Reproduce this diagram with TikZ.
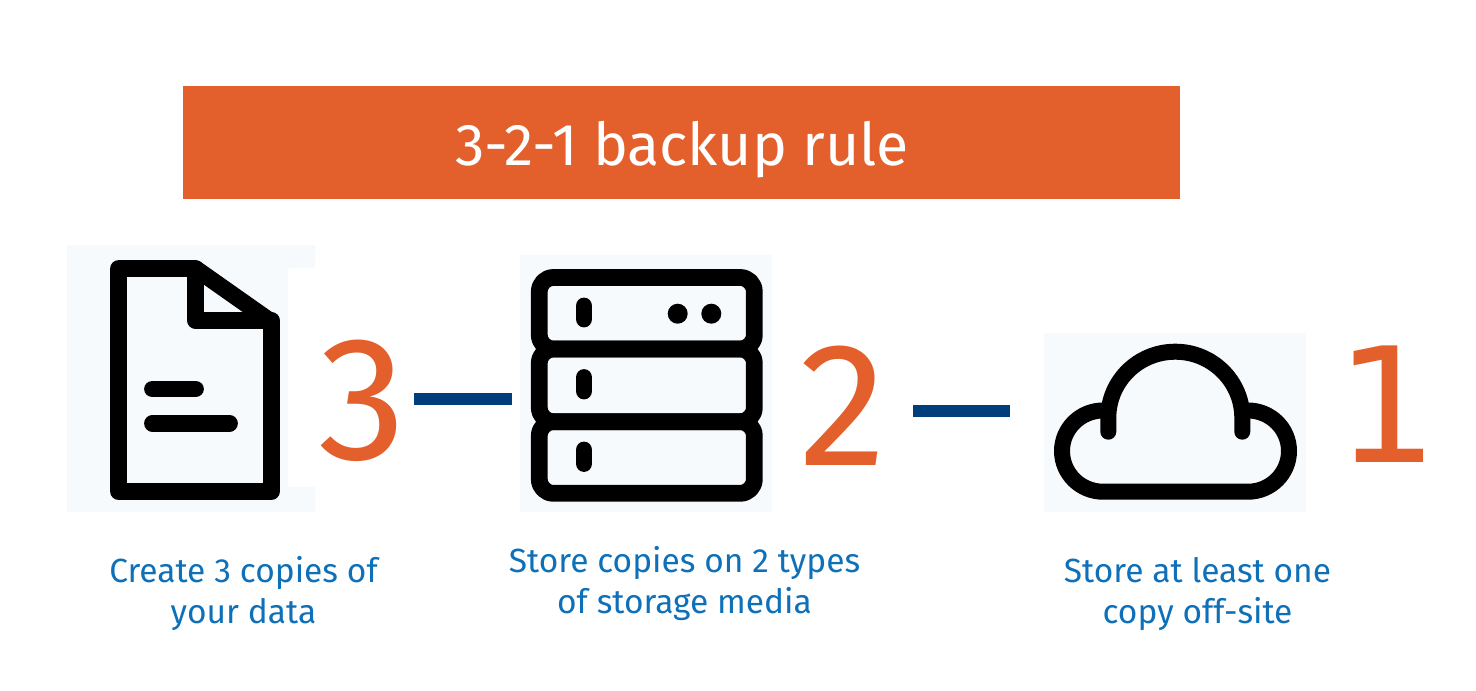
\documentclass[tikz,border=0pt]{standalone}
\usepackage{fontspec}
\setmainfont{Fira Sans}
\newfontfamily\footedface{DejaVu Sans}
\definecolor{rust}{HTML}{E35F2B}
\definecolor{navy}{HTML}{003F7C}
\definecolor{capblue}{HTML}{0E70B8}
\definecolor{iconbg}{HTML}{F7FAFD}
\tikzset{
  icon/.style={draw=black,line width=16.8pt,line join=round,line cap=round},
  iconbgfill/.style={fill=iconbg,draw=none},
  digit/.style={text=rust,inner sep=0pt,anchor=base,font=\fontsize{176}{176}\selectfont},
  caption/.style={text=capblue,inner sep=0pt,align=center,anchor=base,font=\fontsize{33.5}{41}\selectfont},
  link/.style={draw=navy,line width=11.5pt}
}
\begin{document}
\begin{tikzpicture}[x=1pt,y=-1pt]
\useasboundingbox (0,0) rectangle (1476,691);
\fill[white] (0,0) rectangle (1476,691);
% title
\node[fill=rust,minimum width=997pt,minimum height=113pt,inner sep=0pt,anchor=north west] (bar) at (183,86) {};
\node[text=white,inner sep=0pt,anchor=base,font=\fontsize{59}{59}\selectfont] (title) at (682,165) {3-2-1 backup rule};
% icon backgrounds
\fill[iconbgfill] (67,245) -- (315,245) -- (315,268) -- (288,268) -- (288,487) -- (315,487) -- (315,512) -- (67,512) -- cycle;
\fill[iconbgfill] (520,255) rectangle (772,512);
\fill[iconbgfill] (1044,333) rectangle (1306,512);
% document icon
\draw[icon] (118.5,268.5) -- (195.5,268.5) -- (271.5,322) -- (271.5,491.5) -- (118.5,491.5) -- cycle;
\draw[icon] (195.5,268.5) -- (195.5,320.5) -- (271.5,320.5);
\draw[icon] (152.5,389) -- (195.5,389);
\draw[icon] (152.5,423.3) -- (229.5,423.3);
% server icon
\draw[icon,rounded corners=14pt] (539.3,277.5) rectangle (754.3,349);
\draw[icon,rounded corners=14pt] (539.3,349) rectangle (754.3,421.7);
\draw[icon,rounded corners=14pt] (539.3,421.7) rectangle (754.3,493.3);
\draw[icon] (584,306) -- (584,319);
\draw[icon] (584,377.5) -- (584,391);
\draw[icon] (584,450) -- (584,463.5);
\fill (677.7,313.7) circle[radius=10pt];
\fill (711.3,313.7) circle[radius=10pt];
% cloud icon
\draw[icon,line width=16pt] (1103,410.5) .. controls (1080.4,410.5) and (1062,428.7) .. (1062,451) .. controls (1062,473.5) and (1080.4,491.7) .. (1103,491.7) -- (1248,491.7) .. controls (1270.6,491.7) and (1289,473.5) .. (1289,451) .. controls (1289,428.7) and (1270.6,410.5) .. (1248,410.5);
\draw[icon,line width=16pt] (1108.3,431.7) -- (1108.3,418) .. controls (1108.3,381.4) and (1138,351.7) .. (1175.3,351.7) .. controls (1212.3,351.7) and (1242.3,381.4) .. (1242.3,418) -- (1242.3,431.7);
% digits
\node[digit] (n3) at (362.5,459) {3};
\node[digit] (n2) at (843.5,465) {2};
\node[digit,font=\footedface\fontsize{160}{160}\selectfont] (n1) at (1387,462) {1};
% connectors
\coordinate (a1) at (414,399);
\coordinate (a2) at (512,399);
\coordinate (b1) at (913,411);
\coordinate (b2) at (1010,411);
\draw[link] (a1) -- (a2);
\draw[link] (b1) -- (b2);
% captions
\node[caption] (c3) at (243.5,623) {Create 3 copies of\\your data};
\node[caption] (c2) at (684.5,613) {Store copies on 2 types\\of storage media};
\node[caption] (c1) at (1197.5,623) {Store at least one\\copy off-site};
\end{tikzpicture}
\end{document}
